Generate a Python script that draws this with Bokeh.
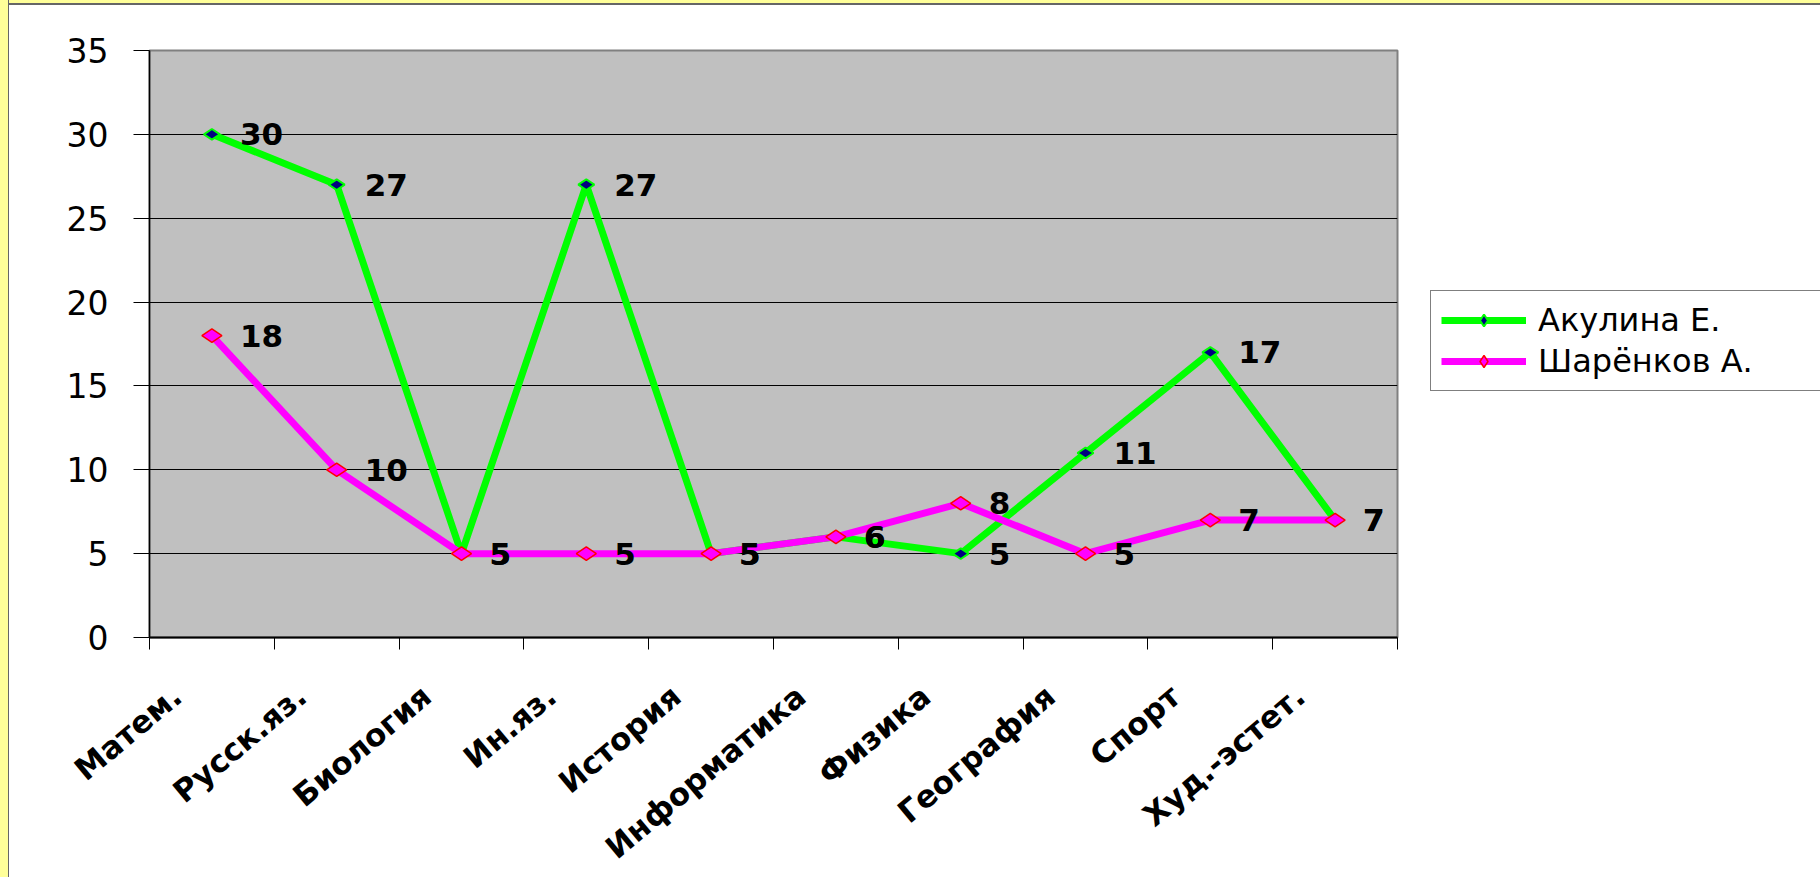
import math
from bokeh.plotting import figure
from bokeh.models import (Range1d, FixedTicker, Legend, LegendItem, ColumnDataSource,
                          GlobalInlineStyleSheet)
from bokeh.embed import file_html
from bokeh.resources import INLINE
from bokeh.core.properties import value

categories = ["Матем.", "Русск.яз.", "Биология", "Ин.яз.", "История",
              "Информатика", "Физика", "География", "Спорт", "Худ.-эстет."]
akulina = [30, 27, 5, 27, 5, 6, 5, 11, 17, 7]
sharenkov = [18, 10, 5, 5, 5, 6, 8, 5, 7, 7]
series_names = ["Акулина Е.", "Шарёнков А."]
y_ticks = [0, 5, 10, 15, 20, 25, 30, 35]

n = len(categories)
xs = [i + 0.5 for i in range(n)]
label_pos = [round(x - 0.28, 2) for x in xs]   # rotated labels end left of centre
boundaries = list(range(n + 1))

FONT = "DejaVu Sans"

p = figure(frame_width=1248, frame_height=587, output_backend="svg", toolbar_location=None,
           x_range=Range1d(0, n), y_range=Range1d(0, 35),
           min_border_left=140, min_border_right=33, min_border_top=45,
           min_border_bottom=238, margin=(5, 0, 0, 9))
p.background_fill_color = "#C0C0C0"
p.border_fill_color = "white"
p.outline_line_color = "#808080"
p.outline_line_width = 2

# grid
p.xgrid.visible = False
p.ygrid.ticker = FixedTicker(ticks=y_ticks)
p.ygrid.grid_line_color = "black"
p.ygrid.grid_line_width = 1
p.ygrid.grid_line_alpha = 1

# y axis
p.yaxis.ticker = FixedTicker(ticks=y_ticks, minor_ticks=[])
p.yaxis.major_tick_out = 16
p.yaxis.major_tick_in = 0
p.yaxis.major_tick_line_color = "black"
p.yaxis.axis_line_color = "black"
p.yaxis.axis_line_width = 1.5
p.yaxis.major_label_text_font = FONT
p.yaxis.major_label_text_font_size = "33px"
p.yaxis.major_label_text_color = "black"
p.yaxis.major_label_standoff = 25

# x axis
p.xaxis.ticker = FixedTicker(ticks=label_pos, minor_ticks=boundaries)
p.xaxis.major_label_overrides = {x: c for x, c in zip(label_pos, categories)}
p.xaxis.major_tick_out = 0
p.xaxis.major_tick_in = 0
p.xaxis.minor_tick_out = 12
p.xaxis.minor_tick_in = 0
p.xaxis.minor_tick_line_color = "black"
p.xaxis.axis_line_color = "black"
p.xaxis.axis_line_width = 2
p.xaxis.major_label_orientation = math.radians(40)
p.xaxis.major_label_text_font = FONT
p.xaxis.major_label_text_font_style = "bold"
p.xaxis.major_label_text_font_size = "31px"
p.xaxis.major_label_text_color = "black"
p.xaxis.major_label_standoff = 42

src1 = ColumnDataSource(dict(x=xs, y=akulina, t=[str(v) for v in akulina]))
src2 = ColumnDataSource(dict(x=xs, y=sharenkov, t=[str(v) for v in sharenkov]))

l1 = p.line("x", "y", source=src1, line_color="#00FF00", line_width=7)
m1 = p.scatter("x", "y", source=src1, marker="diamond", angle=math.pi / 2, size=16,
               fill_color="#000080", line_color="#00FF00", line_width=2)
l2 = p.line("x", "y", source=src2, line_color="#FF00FF", line_width=7)
m2 = p.scatter("x", "y", source=src2, marker="diamond", angle=math.pi / 2, size=20,
               fill_color="#FF00FF", line_color="#FF0000", line_width=1.5)

for src in (src1, src2):
    p.text("x", "y", text="t", source=src, x_offset=28, text_align="left",
           text_baseline="middle", text_font=value(FONT), text_font_style="bold",
           text_font_size="31px", text_color="black")

legend = Legend(items=[LegendItem(label=series_names[0], renderers=[l1, m1]),
                       LegendItem(label=series_names[1], renderers=[l2, m2])],
                location=(33, 246))
legend.label_text_font = FONT
legend.label_text_font_size = "32px"
legend.label_text_color = "black"
legend.glyph_width = 85
legend.glyph_height = 30
legend.label_standoff = 12
legend.label_width = 273
legend.padding = 10
legend.spacing = 3
legend.margin = 0
legend.border_line_color = "black"
legend.border_line_width = 1
legend.background_fill_color = "white"
legend.background_fill_alpha = 1
p.add_layout(legend, "right")

p.stylesheets = [GlobalInlineStyleSheet(css=(
    "html{background-color:#fff;background-repeat:no-repeat;"
    "background-image:linear-gradient(90deg,#FFFF99 0,#FFFF99 8px,#666 8px,#666 9px,transparent 9px),"
    "linear-gradient(180deg,#FFFF99 0,#FFFF99 3px,#666 3px,#666 5px,transparent 5px);}"))]

open("out.html", "w").write(file_html(p, INLINE))
